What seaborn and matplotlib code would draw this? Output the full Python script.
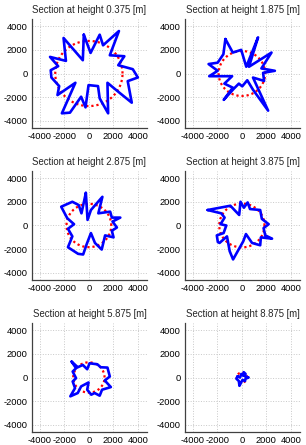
import numpy as np
import pandas as pd
import matplotlib
matplotlib.use('Agg')
import matplotlib.pyplot as plt
import seaborn as sns

sns.set_style('white')
plt.rcParams['font.family'] = ['Liberation Sans', 'DejaVu Sans']

heights = [0.375, 1.875, 2.875, 3.875, 5.875, 8.875]
circle_radii = [2750, 1900, 1830, 1850, 1280, 420]

sec1_x = [-414, 138, 883, 1159, 2456, 1711, 2898, 2401, 3588, 4002, 3174, 3505, 2401, 1518,
          1573, 883, 745, -28, -276, -635, -1546, -2208, -1104, -2567, -2429, -3064, -3119,
          -2512, -3174, -1877, -2070, -497]
sec1_y = [3276, 1736, 3276, 2380, 3584, 1540, 1456, 700, 364, -336, -644, -2464, -1540, -784,
          -3360, -2100, -1064, -980, -2856, -1960, -3304, -3360, -784, -1820, -1064, -336, 280,
          616, 1400, 1064, 2996, 1120]

sec2_x = [-1348, -743, -55, 358, 1320, 578, 2420, 1595, 2695, 1733, 1815, 908, 2145, 908,
          440, 28, -248, -660, -1485, -743, -1430, -798, -2668, -1980, -2723, -1980, -1513]
sec2_y = [2907, 1767, 1995, 570, 3050, 570, 1767, 428, 228, 57, -627, -342, -3135, -1368,
          -570, -1083, -855, -1283, -2223, -1197, -855, -228, -228, 228, 798, 912, 1625]

sec3_x = [-248, -110, 166, 1104, 773, 1739, 1877, 2567, 1932, 2291, 1877, 2015, 1325, 1049,
          497, 166, -193, -469, -883, -1711, -1352, -1711, -1214, -1766, -2263, -1352, -828, -607]
sec3_y = [2752, 473, 1307, 2419, 1029, 1168, 667, 667, 334, -167, -445, -1001, -834, -2029,
          -1473, -639, -1612, -2446, -2391, -1835, -917, -278, 111, 612, 1585, 2002, 1724, 1029]

sec4_x = [-2798, -942, -222, -111, 166, 471, 665, 1496, 1634, 2188, 1773, 1911, 2465, 1551,
          1496, 831, 332, 111, -222, -720, -997, -1219, -1828, -1967, -2050, -1496, -1274,
          -1745, -1413, -1690]
sec4_y = [1307, 1668, 890, 2002, 1501, 1946, 1390, 1307, 556, 111, -222, -834, -1112, -1001,
          -1668, -1473, -723, -1334, -1946, -2863, -2168, -917, -1473, -1390, -834, -639, 0,
          111, 667, 1029]

sec5_x = [-1408, -911, -497, -138, 55, 690, 966, 1518, 1711, 1297, 1794, 1076, 883, 469, 193,
          -138, -28, -635, -911, -1518, -1132, -1325, -1049, -1325, -1049]
sec5_y = [1339, 865, 1060, 698, 1200, 1116, 865, 837, 84, -251, -809, -1032, -1535,
          -1311, -1451, -1032, -419, -753, -1311, -1590, -893, -335, -56, 502, 781]

sec6_x = [-350, -150, -50, 100, 150, 300, 250, 550, 300, 250, 50, -100, -200, -250, -450]
sec6_y = [100, 0, 300, 150, 450, 300, 100, 0, -100, -300, -200, -500, -700, -300, -100]

sections_x = [sec1_x, sec2_x, sec3_x, sec4_x, sec5_x, sec6_x]
sections_y = [sec1_y, sec2_y, sec3_y, sec4_y, sec5_y, sec6_y]

ticks = [-4000, -2000, 0, 2000, 4000]
tick_labels = ['-4000', '-2000', '0', '2000', '4000']

W, H = 306, 445
fig = plt.figure(figsize=(W / 100, H / 100), dpi=100)

col_left = [32, 185]
row_bottom_px = [128, 280, 432]
ax_w, ax_h = 115, 109

for i in range(6):
    r, c = divmod(i, 2)
    ax = fig.add_axes([col_left[c] / W, (H - row_bottom_px[r]) / H, ax_w / W, ax_h / H])
    theta = np.linspace(0, 2 * np.pi, 180)
    rad = circle_radii[i]
    circ = pd.DataFrame({'x': rad * np.cos(theta), 'y': rad * np.sin(theta)})
    sns.lineplot(data=circ, x='x', y='y', sort=False, estimator=None, ax=ax,
                 color='#ff0000', linewidth=1.6, zorder=2, dashes=False)
    ax.lines[-1].set_linestyle((0, (1, 1.3)))
    xs = list(sections_x[i]) + [sections_x[i][0]]
    ys = list(sections_y[i]) + [sections_y[i][0]]
    poly = pd.DataFrame({'x': xs, 'y': ys})
    sns.lineplot(data=poly, x='x', y='y', sort=False, estimator=None, ax=ax,
                 color='#0000ff', linewidth=1.9, zorder=3)
    ax.set_xlim(-4650, 4750)
    ax.set_ylim(-4600, 4600)
    ax.set_xticks(ticks)
    ax.set_xticklabels(tick_labels)
    ax.set_yticks(ticks)
    ax.set_yticklabels(tick_labels)
    ax.set_xlabel('')
    ax.set_ylabel('')
    ax.grid(True, linestyle=':', color='#c8c8c8', linewidth=0.7)
    ax.set_axisbelow(True)
    for s in ['top', 'right']:
        ax.spines[s].set_visible(False)
    for s in ['left', 'bottom']:
        ax.spines[s].set_color('#404040')
        ax.spines[s].set_linewidth(0.9)
    ax.tick_params(axis='both', length=0, pad=3, labelsize=6.7, colors='black')
    ax.set_title(f'Section at height {heights[i]:.3f} [m]', fontsize=6.9, pad=4)

fig.savefig('out.png', dpi=100)
